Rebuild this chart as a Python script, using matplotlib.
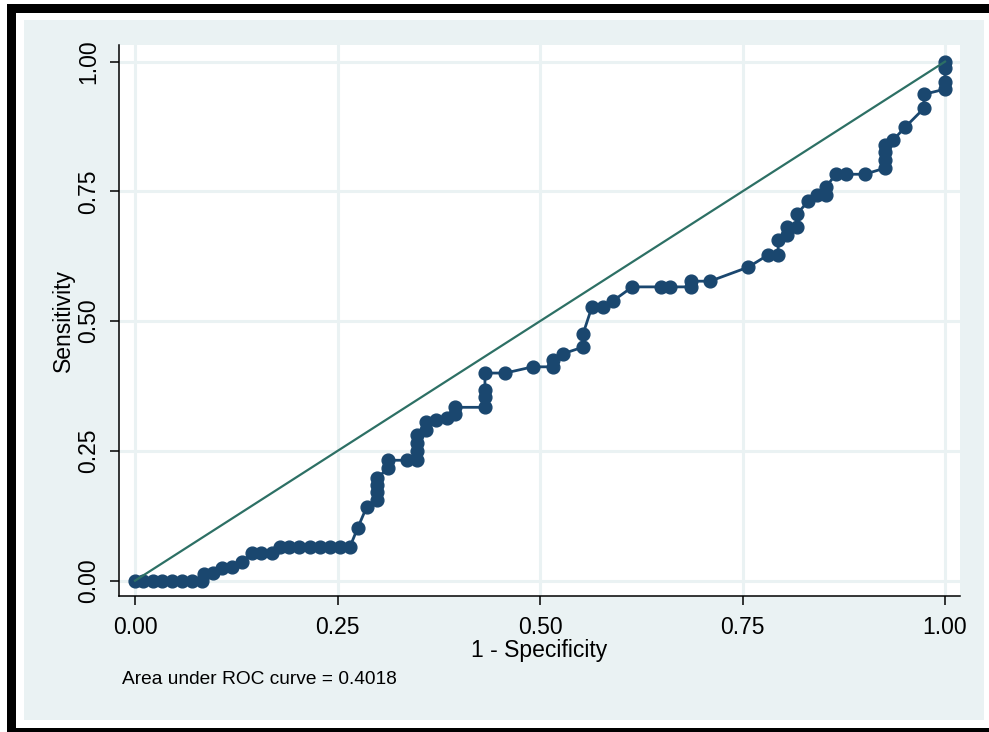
import matplotlib
matplotlib.use("Agg")
import matplotlib.pyplot as plt
from matplotlib.patches import Rectangle

plt.rcParams['font.family'] = ['Liberation Sans', 'DejaVu Sans']

# ROC points (1 - specificity, sensitivity)
fpr = [0.0, 0.010, 0.022, 0.033, 0.046, 0.058, 0.070, 0.083, 0.085,
       0.096, 0.107, 0.120, 0.132, 0.144, 0.156, 0.169,
       0.179, 0.190, 0.203, 0.216, 0.228, 0.241, 0.253, 0.265,
       0.275, 0.286, 0.299, 0.299, 0.299, 0.299,
       0.312, 0.312, 0.336, 0.348, 0.348, 0.348, 0.348,
       0.359, 0.359, 0.372, 0.385, 0.395, 0.395,
       0.432, 0.432, 0.432, 0.432, 0.457, 0.491, 0.516, 0.516,
       0.528, 0.553, 0.553, 0.564, 0.578, 0.590, 0.614, 0.649, 0.661,
       0.686, 0.686, 0.710, 0.757, 0.781, 0.794, 0.794, 0.805, 0.805,
       0.817, 0.817, 0.831, 0.842, 0.853, 0.853, 0.865, 0.878, 0.901,
       0.926, 0.926, 0.926, 0.926, 0.936, 0.951, 0.974, 0.974,
       1.0, 1.0, 1.0, 1.0]
tpr = [0.0, 0.0, 0.0, 0.0, 0.0, 0.0, 0.0, 0.0, 0.012,
       0.015, 0.024, 0.026, 0.036, 0.053, 0.053, 0.053,
       0.064, 0.064, 0.064, 0.064, 0.064, 0.064, 0.064, 0.064,
       0.102, 0.142, 0.155, 0.170, 0.185, 0.197,
       0.217, 0.232, 0.232, 0.232, 0.250, 0.265, 0.280,
       0.290, 0.305, 0.310, 0.313, 0.322, 0.334,
       0.334, 0.354, 0.368, 0.400, 0.400, 0.412, 0.412, 0.425,
       0.437, 0.450, 0.475, 0.527, 0.527, 0.539, 0.566, 0.566, 0.566,
       0.566, 0.577, 0.577, 0.604, 0.627, 0.627, 0.656, 0.666, 0.681,
       0.681, 0.706, 0.731, 0.743, 0.743, 0.758, 0.783, 0.783, 0.783,
       0.795, 0.810, 0.825, 0.839, 0.849, 0.874, 0.910, 0.937,
       0.947, 0.960, 0.987, 1.0]

ref_line = [0.0, 1.0]
ticks = [0.0, 0.25, 0.5, 0.75, 1.0]
tick_labels = ["0.00", "0.25", "0.50", "0.75", "1.00"]
auc_note = "Area under ROC curve = 0.4018"

W, H = 989, 732
fig = plt.figure(figsize=(W / 100, H / 100), dpi=100)
fig.patch.set_facecolor('white')

def frect(x0, y0, x1, y1, color):
    # pixel coords (top-left origin) -> figure fraction
    fig.patches.append(Rectangle((x0 / W, 1 - y1 / H), (x1 - x0) / W, (y1 - y0) / H,
                                 transform=fig.transFigure, facecolor=color,
                                 edgecolor='none', zorder=-10))

frect(7, 4, 1000, 745, 'black')
frect(16, 12.7, 1000, 728, 'white')
frect(24, 20, 984, 720, '#eaf2f3')

L, R, T, B = 119, 960, 45, 596
ax = fig.add_axes([L / W, 1 - B / H, (R - L) / W, (B - T) / H])
ax.set_facecolor('white')
ax.set_xlim(-0.0198, 1.0185)
ax.set_ylim(-0.0295, 1.032)

for t in ticks:
    ax.axvline(t, color='#eaf2f3', lw=2.2, zorder=0)
    ax.axhline(t, color='#eaf2f3', lw=2.2, zorder=0)

ax.plot(fpr, tpr, color='#1a476f', lw=2.0, marker='o', markersize=9.2,
        markerfacecolor='#1a476f', markeredgecolor='#1a476f', zorder=3)
ax.plot(ref_line, ref_line, color='#2d7065', lw=1.6, zorder=4)

for s in ['top', 'right']:
    ax.spines[s].set_visible(False)
for s in ['left', 'bottom']:
    ax.spines[s].set_color('black')
    ax.spines[s].set_linewidth(1.1)

ax.set_xticks(ticks)
ax.set_xticklabels(tick_labels, fontsize=16.5)
ax.set_yticks(ticks)
ax.set_yticklabels(tick_labels, fontsize=16.5, rotation=90, va='center')
ax.tick_params(axis='both', direction='out', length=6.5, width=1.1, color='black')
ax.tick_params(axis='x', pad=8)
ax.tick_params(axis='y', pad=7)

fig.text(63 / W, 1 - 320 / H, "Sensitivity", rotation=90, ha='center', va='center',
         fontsize=16.5)
fig.text(539 / W, 1 - 650 / H, "1 - Specificity", ha='center', va='center',
         fontsize=16.5)
fig.text(122 / W, 1 - 679 / H, auc_note, ha='left', va='center', fontsize=13.8)

fig.savefig('out.png', dpi=100, facecolor=fig.get_facecolor())
